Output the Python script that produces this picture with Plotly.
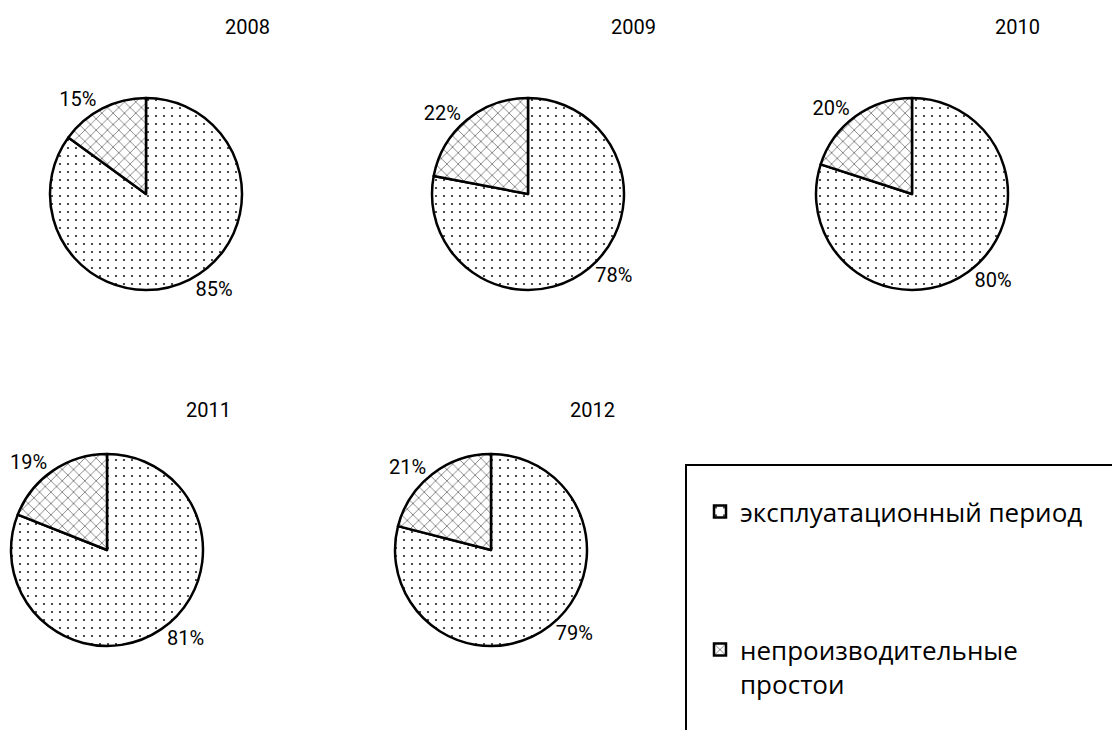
import plotly.graph_objects as go

# ---------------- data ----------------
years = ["2008", "2009", "2010", "2011", "2012"]
categories = ["эксплуатационный период", "непроизводительные простои"]
exploitation = [85, 78, 80, 81, 79]
downtime = [15, 22, 20, 19, 21]

# ---------------- layout constants (px) ----------------
W, H = 1112, 730
R = 96
centers = [(146, 194), (528, 194), (912, 194), (107, 550), (491, 550)]
title_xy = [(247, 27), (633, 27), (1017, 27), (208, 410), (592, 410)]
FONT = "Roboto"
LEG_FAMILY = "Open Sans"
LEG_FONT = 26


def px(x):
    return x / W


def py(y):
    return 1 - y / H


# legend display labels (wrapped / padded like the original legend box)
display_labels = [
    categories[0] + "<br><br><br>",
    categories[1].replace(" ", "<br>"),
]

fig = go.Figure()
for i, yr in enumerate(years):
    cx, cy = centers[i]
    fig.add_trace(go.Pie(
        labels=display_labels,
        values=[exploitation[i], downtime[i]],
        sort=False,
        direction="clockwise",
        rotation=0,
        domain=dict(x=[px(cx - R), px(cx + R)], y=[py(cy + R), py(cy - R)]),
        textinfo="percent",
        texttemplate="%{percent:.0%}",
        textposition="outside",
        textfont=dict(family=FONT, size=20, color="black"),
        marker=dict(
            colors=["white", "white"],
            line=dict(color="black", width=2.5),
            pattern=dict(shape=[".", "x"], fgcolor=["#222222", "#444444"],
                         bgcolor=["white", "white"], size=[8, 8],
                         solidity=[0.06, 0.15], fillmode="replace"),
        ),
        showlegend=(i == 0),
        hoverinfo="skip",
        name=yr,
    ))
    tx, ty = title_xy[i]
    fig.add_annotation(text=yr, x=px(tx), y=py(ty), xref="paper", yref="paper",
                       showarrow=False, xanchor="center", yanchor="middle",
                       font=dict(family=FONT, size=20, color="black"))

# legend frame
fig.add_shape(type="rect", xref="paper", yref="paper",
              x0=px(686), x1=px(1130), y0=py(760), y1=py(465),
              line=dict(color="black", width=2), fillcolor="rgba(0,0,0,0)")

fig.update_layout(
    width=W, height=H,
    margin=dict(l=0, r=0, t=0, b=0),
    paper_bgcolor="white", plot_bgcolor="white",
    font=dict(family=FONT, color="black"),
    legend=dict(x=px(700), y=py(488), xanchor="left", yanchor="top",
                bgcolor="rgba(0,0,0,0)", borderwidth=0, valign="top",
                font=dict(family=LEG_FAMILY, size=LEG_FONT, color="black")),
)

fig.write_html("out.html", config={"displayModeBar": False},
               post_script="document.body.style.margin='0';")
